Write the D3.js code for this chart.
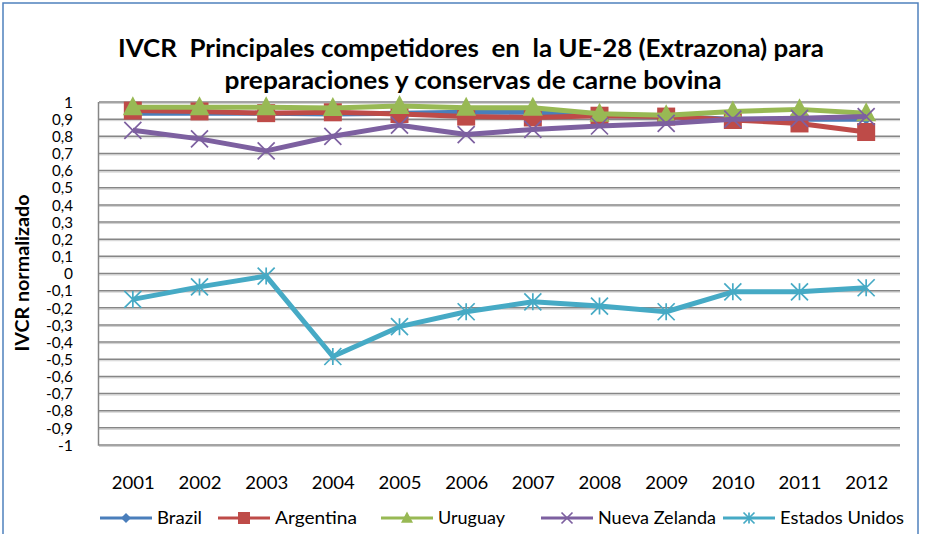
<!DOCTYPE html>
<html><head><meta charset="utf-8">
<script src="https://cdn.jsdelivr.net/npm/d3@7"></script>
<style>
html,body{margin:0;padding:0;background:#fff;}
svg{display:block;font-family:Lato,"Noto Sans",sans-serif;}
text{white-space:pre;}
</style></head>
<body><svg id="c" width="928" height="534"></svg>
<script>
const years = ["2001","2002","2003","2004","2005","2006","2007","2008","2009","2010","2011","2012"];
const brazil    = [0.935,0.935,0.935,0.93,0.935,0.94,0.94,0.92,0.915,0.90,0.90,0.90];
const argentina = [0.95,0.945,0.935,0.94,0.93,0.915,0.91,0.92,0.915,0.895,0.875,0.825];
const uruguay   = [0.97,0.97,0.97,0.965,0.976,0.966,0.966,0.932,0.923,0.945,0.957,0.935];
const nuevaZelanda = [0.835,0.785,0.715,0.80,0.865,0.81,0.84,0.86,0.875,0.90,0.905,0.915];
const estadosUnidos = [-0.151,-0.078,-0.015,-0.484,-0.31,-0.223,-0.165,-0.19,-0.223,-0.107,-0.107,-0.083];
const yTicks = [1,0.9,0.8,0.7,0.6,0.5,0.4,0.3,0.2,0.1,0,-0.1,-0.2,-0.3,-0.4,-0.5,-0.6,-0.7,-0.8,-0.9,-1];
const seriesNames = ["Brazil","Argentina","Uruguay","Nueva Zelanda","Estados Unidos"];
const seriesColors = ["#4A7EBB","#BE4B48","#98B954","#7D60A0","#46AAC5"];
const seriesMarkers = ["diamond","square","triangle","x","asterisk"];
const titleLines = ["IVCR  Principales competidores  en  la UE-28 (Extrazona) para","preparaciones y conservas de carne bovina"];
const yTitle = "IVCR normalizado";

const seriesData = [brazil, argentina, uruguay, nuevaZelanda, estadosUnidos];
const svg = d3.select("#c");

// outer border
svg.append("rect").attr("x",3).attr("y",3).attr("width",915).attr("height",540)
  .attr("fill","none").attr("stroke","#4F81BD").attr("stroke-width",1.5);

const x = d3.scalePoint().domain(years).range([99.5,899.5]).padding(0.5);
const y = d3.scaleLinear().domain([-1,1]).range([445,102]);

// gridlines
const grid = svg.append("g");
yTicks.forEach(v=>{
  grid.append("line").attr("x1",99).attr("x2",900).attr("y1",y(v)+1.5).attr("y2",y(v)+1.5)
    .attr("stroke","#d0d0d0").attr("stroke-width",1);
  grid.append("line").attr("x1",99).attr("x2",900).attr("y1",y(v)).attr("y2",y(v))
    .attr("stroke","#868686").attr("stroke-width",1.5);
});
// left axis
svg.append("line").attr("x1",98.5).attr("x2",98.5).attr("y1",y(1)).attr("y2",y(-1)+0.75)
  .attr("stroke","#868686").attr("stroke-width",1.5);

// y tick labels
const fmt = d => (d===1?"1":d===-1?"-1":d===0?"0":d3.format(".1f")(d).replace(".",",").replace("−","-"));
const yAxis = d3.axisLeft(y).tickValues(yTicks).tickSize(0).tickPadding(0).tickFormat(fmt);
const ya = svg.append("g").attr("transform","translate(73,0)").call(yAxis);
ya.select(".domain").remove();
ya.selectAll("text").attr("font-size",14.5).attr("fill","#000").attr("font-family","Lato")
  .attr("dy","0.36em");
ya.selectAll("text").each(function(d){
  const w = fmt(d).length;
  d3.select(this).attr("textLength", [0,9,15,21,27][w]).attr("lengthAdjust","spacingAndGlyphs");
});

// x labels
const xAxis = d3.axisBottom(x).tickSize(0).tickPadding(0);
const xa = svg.append("g").attr("transform","translate(0,476)").call(xAxis);
xa.select(".domain").remove();
xa.selectAll("text").attr("font-size",18).attr("fill","#000").attr("font-family","Lato")
  .attr("textLength",43).attr("lengthAdjust","spacingAndGlyphs");

// title
svg.append("text").attr("x",471).attr("y",57).attr("text-anchor","middle")
  .attr("font-size",24).attr("font-weight","bold").attr("fill","#000")
  .attr("textLength",706).attr("lengthAdjust","spacingAndGlyphs").text(titleLines[0]);
svg.append("text").attr("x",473).attr("y",89).attr("text-anchor","middle")
  .attr("font-size",24).attr("font-weight","bold").attr("fill","#000")
  .attr("textLength",497).attr("lengthAdjust","spacingAndGlyphs").text(titleLines[1]);

// y title
svg.append("text").attr("transform","translate(29,273) rotate(-90)").attr("text-anchor","middle")
  .attr("font-size",19).attr("font-weight","bold").attr("fill","#000")
  .attr("textLength",157).attr("lengthAdjust","spacingAndGlyphs").text(yTitle);

function marker(g, type, cx, cy, size, color){
  const s = size/2;
  if(type==="diamond"){
    g.append("path").attr("d",`M${cx},${cy-s}L${cx+s},${cy}L${cx},${cy+s}L${cx-s},${cy}Z`).attr("fill",color);
  } else if(type==="square"){
    g.append("rect").attr("x",cx-s).attr("y",cy-s).attr("width",size).attr("height",size).attr("fill",color);
  } else if(type==="triangle"){
    g.append("path").attr("d",`M${cx},${cy-s*1.1}L${cx+s},${cy+s*0.8}L${cx-s},${cy+s*0.8}Z`).attr("fill",color);
  } else if(type==="x"){
    g.append("path").attr("d",`M${cx-s},${cy-s}L${cx+s},${cy+s}M${cx-s},${cy+s}L${cx+s},${cy-s}`).attr("stroke",color).attr("stroke-width",1.7).attr("fill","none");
  } else if(type==="asterisk"){
    g.append("path").attr("d",`M${cx-s},${cy-s}L${cx+s},${cy+s}M${cx-s},${cy+s}L${cx+s},${cy-s}M${cx},${cy-s}L${cx},${cy+s}`).attr("stroke",color).attr("stroke-width",1.7).attr("fill","none");
  }
}

const line = d3.line().x((d,i)=>x(years[i])).y(d=>y(d));
const markerSize = [11,18,20,17,17];
const plot = svg.append("g");
seriesData.forEach((data,k)=>{
  const g = plot.append("g");
  g.append("path").datum(data).attr("d",line).attr("fill","none")
    .attr("stroke",seriesColors[k]).attr("stroke-width",5).attr("stroke-linejoin","round");
  data.forEach((v,i)=>marker(g, seriesMarkers[k], x(years[i]), y(v), markerSize[k], seriesColors[k]));
});

// legend
const legendX = [100,218,381,541,723];
const legendW = [45,82,67,118,124];
const leg = svg.append("g");
seriesNames.forEach((n,k)=>{
  const lx = legendX[k], ly = 518;
  leg.append("line").attr("x1",lx).attr("x2",lx+52).attr("y1",ly).attr("y2",ly)
    .attr("stroke",seriesColors[k]).attr("stroke-width",3);
  marker(leg, seriesMarkers[k], lx+26, ly, [10,12,12,11,11][k], seriesColors[k]);
  leg.append("text").attr("x",lx+57).attr("y",ly).attr("dy","0.36em").attr("font-size",18)
    .attr("fill","#000").attr("textLength",legendW[k]).attr("lengthAdjust","spacingAndGlyphs").text(n);
});
</script></body></html>
